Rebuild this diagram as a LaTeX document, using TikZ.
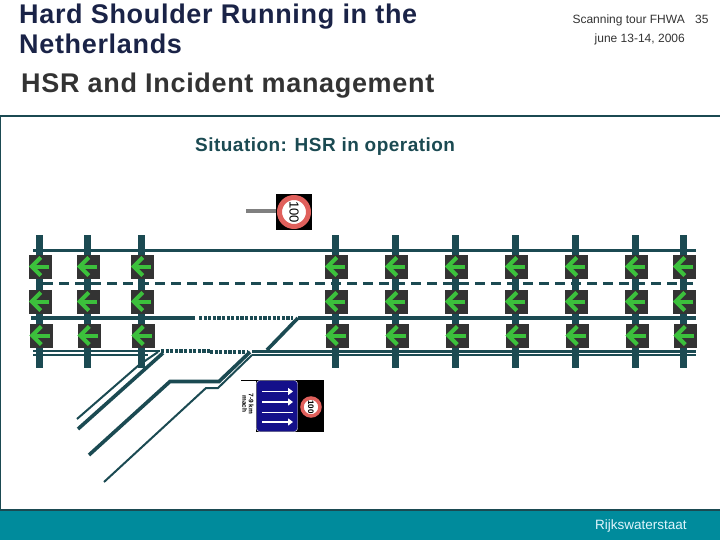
\documentclass[tikz,border=0pt]{standalone}
\usepackage{fontspec}
\usepackage{xcolor}
\setmainfont{Liberation Sans}
\newfontfamily\headfont[LetterSpace=2.5]{Liberation Sans}
\usetikzlibrary{arrows.meta, positioning}
\definecolor{roadcol}{HTML}{1B4A52}
\definecolor{bandcol}{HTML}{008B9C}
\definecolor{signcol}{HTML}{333333}
\definecolor{arrowcol}{HTML}{3CC03C}
\definecolor{ringcol}{HTML}{E0605C}
\definecolor{panelcol}{HTML}{14108A}
\definecolor{titlecol}{HTML}{1A2347}

\begin{document}
\begin{tikzpicture}[
        x=1pt, y=-1pt,
        title/.style={anchor=west, font=\headfont\bfseries\fontsize{27}{30}\selectfont, align=left, inner sep=0pt},
        meta/.style={font=\fontsize{12}{19}\selectfont, text=black!80, inner sep=0pt, align=right},
        gantry/.style={draw=roadcol, line width=7pt},
        sigbox/.style={rectangle, fill=signcol, minimum width=23pt, minimum height=24pt, inner sep=0pt},
        sigarrow/.style={draw=arrowcol, line width=4pt},
        road/.style={draw=roadcol, line width=3.6pt},
        thinroad/.style={draw=roadcol, line width=2pt},
        dotted road/.style={draw=roadcol, line width=4pt, dash pattern=on 3.2pt off 1.4pt}
    ]
    \useasboundingbox (0,0) rectangle (720,540);

    % header
    \node [title, text=titlecol] (head) at (19,29) {Hard Shoulder Running in the\\ Netherlands};
    \node [title, text=signcol] (sub) at (21,86) {HSR and Incident management};
    \node [meta, anchor=north east] (tour) at (685,15) {Scanning tour FHWA\\ june 13-14, 2006};
    \node [meta, anchor=north west] (page) at (695,15) {35};
    \node [anchor=west, inner sep=0pt, text=roadcol, font=\headfont\bfseries\fontsize{19}{21}\selectfont] (situation) at (195,147) {Situation: HSR in operation};

    % frame and band
    \draw [roadcol, line width=1.5pt] (0,116) -- (720,116);
    \draw [roadcol, line width=1.5pt] (0.7,116) -- (0.7,510);
    \fill [bandcol] (0,510) rectangle (720,540);
    \draw [roadcol, line width=2pt] (0,510) -- (720,510);
    \node [anchor=west, inner sep=0pt, text=cyan!12, font=\fontsize{13.5}{15}\selectfont] (rws) at (595,526) {Rijkswaterstaat};

    % gantries
    \foreach \x in {39,87,141,335,395,455,515,575,635,683}
        \draw [gantry] (\x,235) -- (\x,368);

    % carriageway
    \draw [road] (33,250.5) -- (696,250.5);
    \draw [roadcol, line width=3pt, dash pattern=on 10pt off 6pt] (43,283.5) -- (696,283.5);
    \draw [road] (31,318) -- (195,318);
    \draw [dotted road] (199,318) -- (293,318);
    \draw [road] (298,318) -- (696,318);
    \draw [road, line width=2.5pt] (33,351) -- (160,351);
    \draw [thinroad] (33,355) -- (148,355);
    \draw [dotted road] (161,350.5) -- (210,350.5);
    \draw [dotted road] (210,352) -- (248,352);
    \draw [road, line width=2.5pt] (252,351.5) -- (696,351.5);
    \draw [thinroad] (252,355) -- (696,355);

    % slip roads
    \draw [road] (298,318) -- (267,350);
    \draw [thinroad] (77,419) -- (139,365) -- (158,352);
    \draw [road] (78,429) -- (163,353);
    \draw [road] (89,455) -- (170,381.5) -- (219,381.5) -- (250,352);
    \draw [thinroad] (104,482) -- (206,388) -- (218,388) -- (252,355);

    % signals
    \foreach \x/\n in {39/a,87/b,141/c,335/d,395/e,455/f,515/g,575/h,635/i,683/j} {
        \node [sigbox] (sig\n1) at (\x+1.5,266.5) {};
        \node [sigbox] (sig\n2) at (\x+1.5,301.5) {};
        \node [sigbox] (sig\n3) at (\x+2,335.5) {};
        \foreach \r in {1,2,3} {
            \draw [sigarrow] ([xshift=-3pt]sig\n\r.east) -- ([xshift=4pt]sig\n\r.west);
            \draw [sigarrow] ([xshift=12pt,yshift=9pt]sig\n\r.west) -- ([xshift=3pt]sig\n\r.west) -- ([xshift=12pt,yshift=-9pt]sig\n\r.west);
        }
    }

    % speed sign
    \draw [draw=gray, line width=4pt] (246,211) -- (277,211);
    \node [rectangle, fill=black, minimum size=36pt, inner sep=0pt] (speedbox) at (294,212) {};
    \node [circle, draw=ringcol, fill=white, line width=5pt, minimum size=29pt, inner sep=0pt, rotate=-90, font=\fontsize{13}{14}\selectfont] (speed) at (speedbox) {100};

    % lane panel
    \node [rectangle, fill=black, minimum width=68pt, minimum height=52pt, inner sep=0pt] (panelbox) at (290,406) {};
    \node [rectangle, rounded corners=3pt, draw=white, fill=panelcol, minimum width=41pt, minimum height=51pt, inner sep=0pt] (panel) at (277,406) {};
    \node [circle, draw=ringcol, fill=white, line width=3.5pt, minimum size=18pt, inner sep=0pt, rotate=-90, font=\bfseries\fontsize{8}{9}\selectfont] (panelspeed) at (311,407) {100};
    \foreach \y in {391.5,402,422}
        \draw [white, line width=1.6pt, -{Triangle[length=5pt, width=7pt]}] (262,\y) -- (293,\y);
    \draw [white, line width=0.8pt] (262,412.5) -- (293,412.5);
    \draw [black, line width=0.7pt] (241,380.5) -- (256,380.5);
    \node [rotate=-90, inner sep=0pt, align=center, font=\bfseries\fontsize{6.5}{6.5}\selectfont] (paneltext) at (248,404) {7-9 km\\ mach};
\end{tikzpicture}
\end{document}
